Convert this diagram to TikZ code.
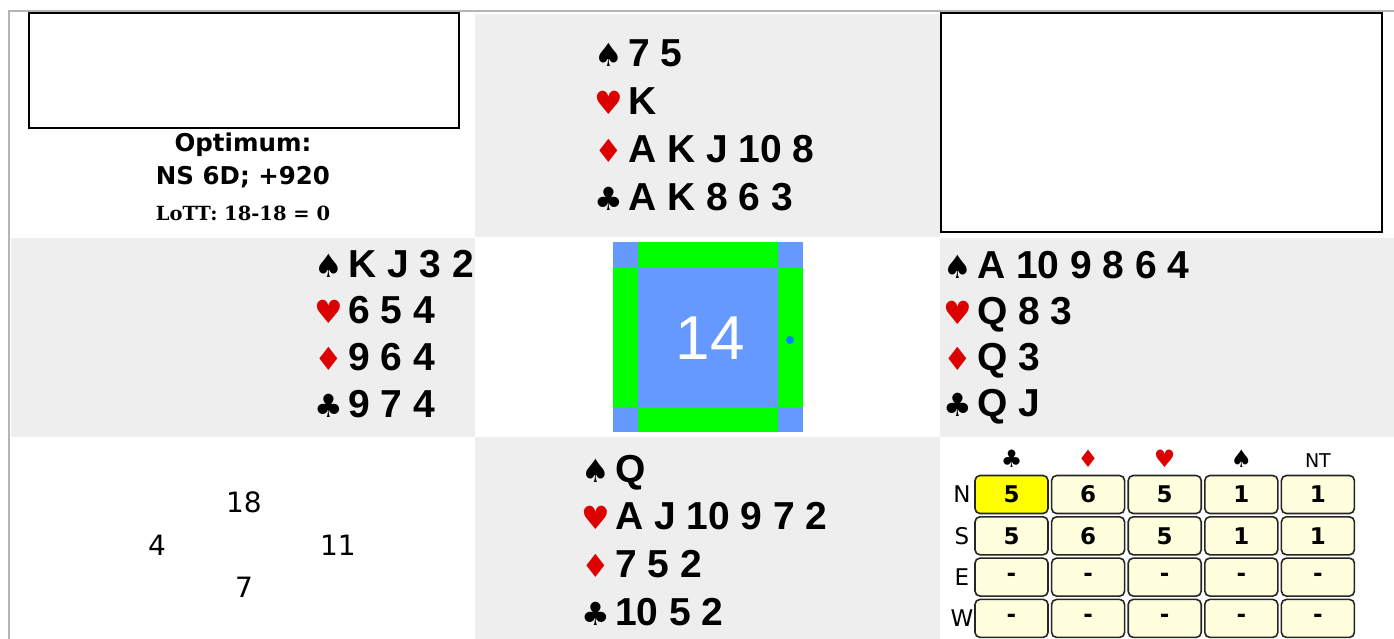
\documentclass[tikz,border=0pt]{standalone}
\usepackage{fontspec}
\setmainfont{Liberation Sans}
\newfontfamily\symfont{DejaVu Sans}
\newfontfamily\serfont{DejaVu Serif}
\usepackage{xcolor}

\definecolor{cellgray}{RGB}{238,238,238}
\definecolor{framegray}{RGB}{180,180,180}
\definecolor{suitred}{RGB}{221,0,0}
\definecolor{cmpblue}{RGB}{102,153,255}
\definecolor{cmpgreen}{RGB}{0,255,0}
\definecolor{dotblue}{RGB}{0,128,255}
\definecolor{ddbg}{RGB}{255,255,222}
\definecolor{ddhi}{RGB}{255,255,0}

\newcommand{\spS}{♠}
\newcommand{\heS}{\textcolor{suitred}{♥}}
\newcommand{\diS}{\textcolor{suitred}{♦}}
\newcommand{\clS}{♣}

% one hand: name, x of ranks, first baseline, line step, four suits
\newcommand{\drawhand}[8]{%
  \foreach \sym/\held [count=\i from 0] in {\spS/{#5},\heS/{#6},\diS/{#7},\clS/{#8}}{
    \node[suit, anchor=base] (#1-s\i) at ({#2-19}, {#3+#4*\i}) {\sym};
    \node[cards, anchor=base west] (#1-c\i) at (#2, {#3+#4*\i}) {\held};
  }}

\begin{document}
\begin{tikzpicture}[x=1pt, y=-1pt,
  suit/.style={font=\symfont\fontsize{32}{32}\selectfont, inner sep=0pt},
  cards/.style={font=\bfseries\fontsize{39}{39}\selectfont, inner sep=0pt},
  blankbox/.style={draw, line width=2pt, anchor=north west, inner sep=0pt},
  opt/.style={font=\symfont\bfseries\fontsize{24.5}{24.5}\selectfont, inner sep=0pt},
  lott/.style={font=\serfont\bfseries\fontsize{19.5}{19.5}\selectfont, inner sep=0pt},
  hcp/.style={font=\symfont\fontsize{28}{28}\selectfont, inner sep=0pt, anchor=base},
  boardno/.style={font=\fontsize{62}{62}\selectfont, text=white, inner sep=0pt},
  seat/.style={font=\symfont\fontsize{23}{23}\selectfont, inner sep=0pt},
  ddhead/.style={font=\symfont\fontsize{24}{24}\selectfont, inner sep=0pt, anchor=base},
  ddcell/.style={draw=black!85, line width=1.6pt, rounded corners=5pt,
    minimum width=73pt, minimum height=38pt, inner sep=0pt,
    font=\symfont\bfseries\fontsize{23}{23}\selectfont}
]
\useasboundingbox (0,0) rectangle (1394,639);
\fill[white] (0,0) rectangle (1394,639);

% cells
\fill[cellgray] (475,14) rectangle (940,237);
\fill[cellgray] (11,238) rectangle (475,437);
\fill[cellgray] (940,238) rectangle (1394,437);
\fill[cellgray] (475,437) rectangle (940,639);
\draw[framegray, line width=2pt] (9,639) -- (9,11) -- (1394,11);

% top corners
\node[blankbox, minimum width=430pt, minimum height=115pt] (notes) at (28,12) {};
\node[blankbox, minimum width=441pt, minimum height=219pt] (auction) at (940,12) {};
\node[opt, anchor=base] (optlbl) at (243,152) {Optimum:};
\node[opt, anchor=base] (optcon) at (243,185) {NS 6D; +920};
\node[lott, anchor=base] (lott) at (243,220) {LoTT: 18-18 = 0};

% hands
\drawhand{north}{628}{67}{48}{7 5}{K}{A K J 10 8}{A K 8 6 3}
\drawhand{west}{348}{277}{46.7}{K J 3 2}{6 5 4}{9 6 4}{9 7 4}
\drawhand{east}{977}{278}{46}{A 10 9 8 6 4}{Q 8 3}{Q 3}{Q J}
\drawhand{south}{615}{482}{47.7}{Q}{A J 10 9 7 2}{7 5 2}{10 5 2}

% compass
\fill[cmpblue] (613,242) rectangle (803,432);
\fill[cmpgreen] (638,242) rectangle (778,432);
\fill[cmpgreen] (613,268) rectangle (803,407);
\fill[cmpblue] (638,268) rectangle (778,407);
\node[boardno] (board) at (710,338.5) {14};
\fill[dotblue] (790,340) circle (4);

% points
\node[hcp] (hcp-n) at (244,512) {18};
\node[hcp] (hcp-w) at (157,555) {4};
\node[hcp] (hcp-e) at (338,555) {11};
\node[hcp] (hcp-s) at (244,597) {7};

% double dummy table
\foreach \h [count=\i from 0] in {\clS,\diS,\heS,\spS,{\fontsize{19}{19}\selectfont NT}}
  \node[ddhead] (dd-h\i) at ({1011.5+76.6*\i}, 467) {\h};
\foreach \r/\vals [count=\j from 0] in {N/{5,6,5,1,1}, S/{5,6,5,1,1}, E/{-,-,-,-,-}, W/{-,-,-,-,-}} {
  \node[seat] (dd-\r) at (962, {494.5+41.3*\j}) {\r};
  \foreach \v [count=\i from 0] in \vals {
    \edef\cellfill{\ifnum\i=0 \ifnum\j=0 ddhi\else ddbg\fi\else ddbg\fi}
    \node[ddcell, fill=\cellfill] (dd-\r\i) at ({1011.5+76.6*\i}, {494.5+41.3*\j}) {\v};
  }
}
\end{tikzpicture}
\end{document}
